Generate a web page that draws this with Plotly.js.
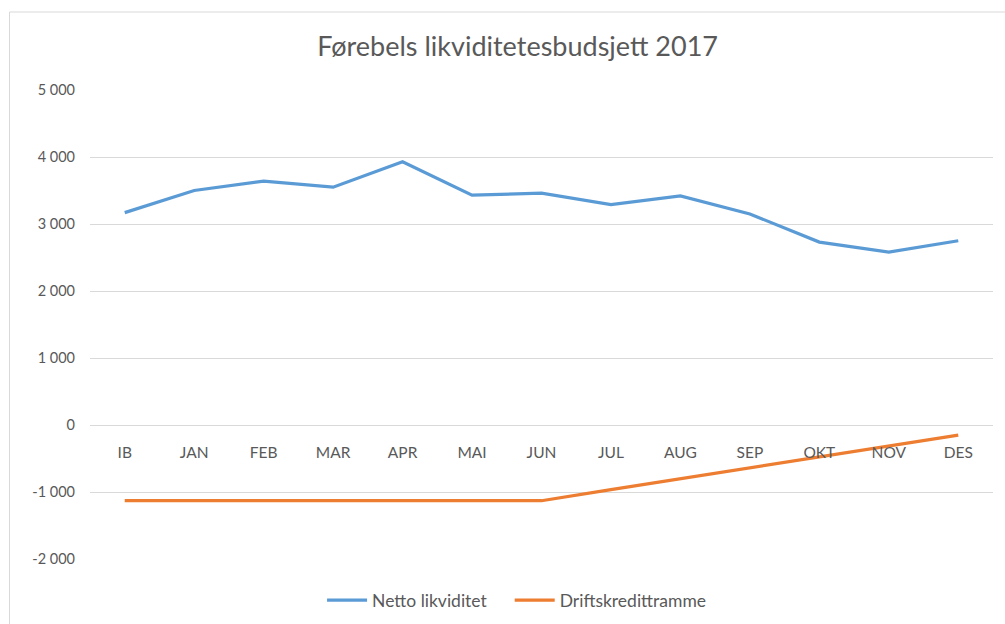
<!DOCTYPE html>
<html>
<head>
<meta charset="utf-8">
<script src="https://cdn.plot.ly/plotly-3.0.1.min.js"></script>
<style>html,body{margin:0;padding:0;background:#fff;}#chart{width:1005px;height:624px;}</style>
</head>
<body>
<div id="chart"></div>
<script>
const months = ["IB","JAN","FEB","MAR","APR","MAI","JUN","JUL","AUG","SEP","OKT","NOV","DES"];
const nettoLikviditet = [3170, 3500, 3640, 3550, 3930, 3430, 3460, 3290, 3420, 3150, 2730, 2580, 2750];
const driftskredittramme = [-1130, -1130, -1130, -1130, -1130, -1130, -1130, -965, -800, -640, -475, -310, -150];
const yTickVals = [-2000, -1000, 0, 1000, 2000, 3000, 4000, 5000];
const yTickText = ["-2 000", "-1 000", "0", "1 000", "2 000", "3 000", "4 000", "5 000"];

const fontFam = "Lato, 'Open Sans', sans-serif";
const W = 1005, H = 624, ML = 90, MR = 12, MT = 90, MB = 65;
const PW = W - ML - MR, PH = H - MT - MB;
const px2x = p => (p - ML) / PW;
const py2y = p => (H - MB - p) / PH;

const traces = [
  {x: months, y: nettoLikviditet, type: "scatter", mode: "lines", name: "Netto likviditet\u00a0\u00a0\u00a0\u00a0",
   line: {color: "#5B9BD5", width: 3.2}},
  {x: months, y: driftskredittramme, type: "scatter", mode: "lines", name: "Driftskredittramme",
   line: {color: "#ED7D31", width: 3.2}}
];
const layout = {
  width: W, height: H,
  margin: {l: ML, r: MR, t: MT, b: MB},
  paper_bgcolor: "#fff", plot_bgcolor: "#fff",
  font: {family: fontFam, color: "#595959", size: 14},
  title: {text: "Førebels likviditetesbudsjett 2017", x: 0.515, xanchor: "center", y: 0.925, yanchor: "middle",
          font: {family: fontFam, size: 27, color: "#595959"}},
  xaxis: {type: "category", range: [-0.5, 12.5], anchor: "free", position: 2/7,
          showline: false, showgrid: false, zeroline: false, ticks: "", ticklabelstandoff: 16,
          tickfont: {family: fontFam, size: 15.5, color: "#595959"}, fixedrange: true},
  yaxis: {range: [-2000, 5000], tickvals: yTickVals, ticktext: yTickText,
          showgrid: true, gridcolor: "#D9D9D9", gridwidth: 1, zeroline: false, showline: false,
          ticks: "", ticklabelstandoff: 14,
          tickfont: {family: fontFam, size: 14.5, color: "#595959"}, fixedrange: true},
  showlegend: true,
  legend: {orientation: "h", xref: "container", yref: "container", x: 0.514, xanchor: "center",
           y: 0.038, yanchor: "middle",
           font: {family: fontFam, size: 17.5, color: "#595959"}, itemwidth: 40, tracegroupgap: 0},
  shapes: [{type: "rect", xref: "paper", yref: "paper",
            x0: px2x(9.5), x1: px2x(1012), y0: py2y(630), y1: py2y(12),
            line: {color: "#D9D9D9", width: 1}, fillcolor: "rgba(0,0,0,0)", layer: "below"}]
};
Plotly.newPlot("chart", traces, layout, {displayModeBar: false, staticPlot: true});
</script>
</body>
</html>
